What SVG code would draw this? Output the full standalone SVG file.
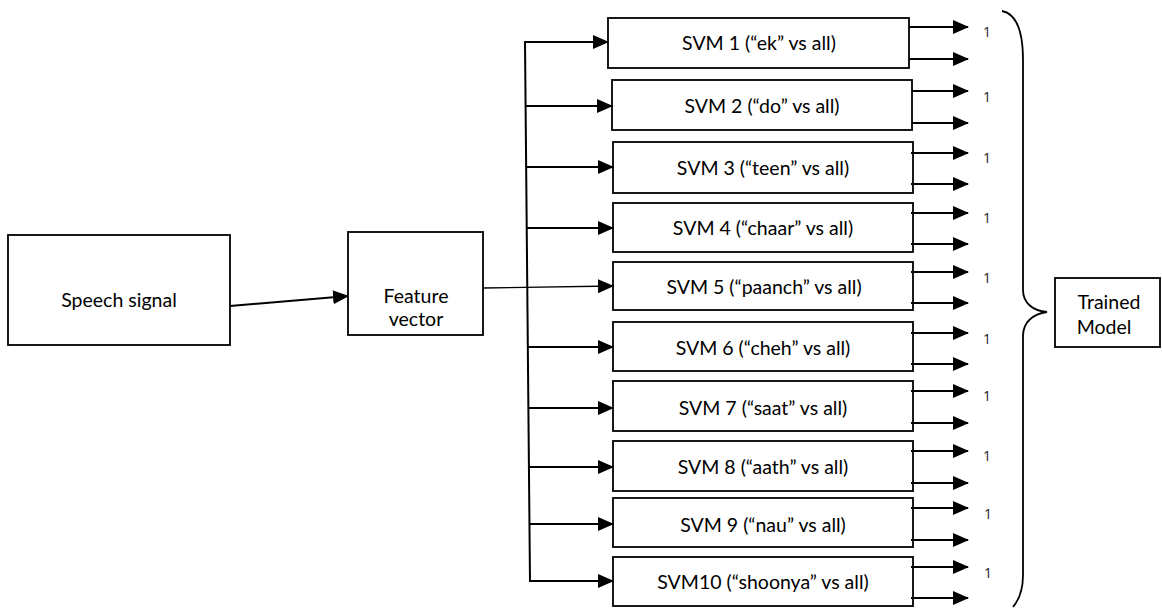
<svg xmlns="http://www.w3.org/2000/svg" width="1162" height="608" viewBox="0 0 1162 608">
  <style>
    .box { fill: #fff; stroke: #000; stroke-width: 1.8; }
    .lbl { font-family: Lato, "Open Sans", "Liberation Sans", sans-serif; font-size: 19.5px; fill: #000; text-anchor: middle; }
    .one { font-family: "Open Sans", "Liberation Sans", sans-serif; font-size: 14px; fill: #222; text-anchor: middle; }
    .wire { fill: none; stroke: #000; stroke-width: 2; }
    .thin { fill: none; stroke: #000; stroke-width: 1.3; }
  </style>
  <defs>
    <marker id="arr" viewBox="0 0 16 14" refX="15" refY="7" markerWidth="16" markerHeight="14" markerUnits="userSpaceOnUse" orient="auto">
      <path d="M0,0 L16,7 L0,14 Z" fill="#000"/>
    </marker>
  </defs>

  <g id="speech-signal">
    <rect class="box" x="8" y="235" width="222" height="110"/>
    <text class="lbl" x="119" y="307">Speech signal</text>
  </g>

  <g id="feature-vector">
    <rect class="box" x="348" y="232" width="135" height="103"/>
    <text class="lbl" x="416" y="303">Feature</text>
    <text class="lbl" x="416" y="326">vector</text>
  </g>

  <g id="svm1"><rect class="box" x="608" y="18" width="301" height="50"/><text class="lbl" x="759" y="50">SVM 1 (“ek” vs  all)</text></g>
  <g id="svm2"><rect class="box" x="612" y="80" width="300" height="50"/><text class="lbl" x="762" y="113">SVM 2 (“do” vs all)</text></g>
  <g id="svm3"><rect class="box" x="613" y="142" width="300" height="51"/><text class="lbl" x="763" y="175">SVM 3 (“teen” vs all)</text></g>
  <g id="svm4"><rect class="box" x="613" y="203" width="300" height="49"/><text class="lbl" x="763" y="235">SVM 4 (“chaar” vs all)</text></g>
  <g id="svm5"><rect class="box" x="613" y="262" width="300" height="48"/><text class="lbl" x="764" y="294">SVM 5 (“paanch” vs all)</text></g>
  <g id="svm6"><rect class="box" x="613" y="322" width="300" height="49"/><text class="lbl" x="763" y="355">SVM 6 (“cheh” vs all)</text></g>
  <g id="svm7"><rect class="box" x="613" y="381" width="300" height="50"/><text class="lbl" x="763" y="415">SVM 7 (“saat” vs all)</text></g>
  <g id="svm8"><rect class="box" x="613" y="441" width="300" height="50"/><text class="lbl" x="763" y="474">SVM 8 (“aath” vs all)</text></g>
  <g id="svm9"><rect class="box" x="613" y="498" width="300" height="49"/><text class="lbl" x="763" y="532">SVM 9 (“nau” vs all)</text></g>
  <g id="svm10"><rect class="box" x="613" y="557" width="300" height="49"/><text class="lbl" x="763" y="589">SVM10 (“shoonya” vs all)</text></g>

  <g id="trained-model">
    <rect class="box" x="1055" y="278" width="105" height="69"/>
    <text class="lbl" x="1109" y="309">Trained</text>
    <text class="lbl" x="1104" y="334">Model</text>
  </g>

  <g id="connectors">
    <!-- speech signal to feature vector -->
    <line class="wire" x1="230" y1="306" x2="348" y2="296" marker-end="url(#arr)"/>
    <!-- feature vector out to SVM 5 -->
    <line class="thin" x1="483" y1="288" x2="613" y2="286" marker-end="url(#arr)"/>
    <!-- distribution bus -->
    <line class="wire" x1="525" y1="42" x2="530" y2="582"/>
    <!-- bus taps into each SVM -->
    <line class="wire" x1="524" y1="42" x2="608" y2="42" marker-end="url(#arr)"/>
    <line class="wire" x1="526" y1="106" x2="612" y2="106" marker-end="url(#arr)"/>
    <line class="wire" x1="526" y1="167" x2="613" y2="167" marker-end="url(#arr)"/>
    <line class="wire" x1="527" y1="228" x2="613" y2="228" marker-end="url(#arr)"/>
    <line class="wire" x1="528" y1="347" x2="613" y2="347" marker-end="url(#arr)"/>
    <line class="wire" x1="528" y1="408" x2="613" y2="408" marker-end="url(#arr)"/>
    <line class="wire" x1="529" y1="467" x2="613" y2="467" marker-end="url(#arr)"/>
    <line class="wire" x1="529" y1="524" x2="613" y2="524" marker-end="url(#arr)"/>
    <line class="wire" x1="529" y1="581" x2="613" y2="581" marker-end="url(#arr)"/>

    <!-- SVM outputs -->
    <line class="wire" x1="909" y1="27" x2="968" y2="27" marker-end="url(#arr)"/>
    <line class="wire" x1="909" y1="59" x2="968" y2="59" marker-end="url(#arr)"/>
    <line class="wire" x1="912" y1="91" x2="968" y2="91" marker-end="url(#arr)"/>
    <line class="wire" x1="912" y1="123" x2="968" y2="123" marker-end="url(#arr)"/>
    <line class="wire" x1="911" y1="153" x2="968" y2="153" marker-end="url(#arr)"/>
    <line class="wire" x1="911" y1="184" x2="968" y2="184" marker-end="url(#arr)"/>
    <line class="wire" x1="911" y1="213" x2="968" y2="213" marker-end="url(#arr)"/>
    <line class="wire" x1="911" y1="244" x2="968" y2="244" marker-end="url(#arr)"/>
    <line class="wire" x1="911" y1="272" x2="968" y2="272" marker-end="url(#arr)"/>
    <line class="wire" x1="911" y1="303" x2="968" y2="303" marker-end="url(#arr)"/>
    <line class="wire" x1="911" y1="333" x2="968" y2="333" marker-end="url(#arr)"/>
    <line class="wire" x1="911" y1="364" x2="968" y2="364" marker-end="url(#arr)"/>
    <line class="wire" x1="911" y1="391" x2="968" y2="391" marker-end="url(#arr)"/>
    <line class="wire" x1="911" y1="423" x2="968" y2="423" marker-end="url(#arr)"/>
    <line class="wire" x1="911" y1="451" x2="968" y2="451" marker-end="url(#arr)"/>
    <line class="wire" x1="911" y1="483" x2="968" y2="483" marker-end="url(#arr)"/>
    <line class="wire" x1="911" y1="508" x2="968" y2="508" marker-end="url(#arr)"/>
    <line class="wire" x1="911" y1="540" x2="968" y2="540" marker-end="url(#arr)"/>
    <line class="wire" x1="911" y1="567" x2="968" y2="567" marker-end="url(#arr)"/>
    <line class="wire" x1="911" y1="598" x2="968" y2="598" marker-end="url(#arr)"/>

    <!-- brace gathering the outputs -->
    <path d="M1002,11 C1018,14 1023,34 1023,60 L1023,290 C1023,303 1033,311 1047,312 C1033,314 1023,322 1023,336 L1023,575 C1023,590 1019,600 1013,607" fill="none" stroke="#000" stroke-width="1.8"/>
  </g>

  <g id="output-labels">
    <text class="one" x="987" y="37">1</text>
    <text class="one" x="987" y="102">1</text>
    <text class="one" x="987" y="163">1</text>
    <text class="one" x="987" y="223">1</text>
    <text class="one" x="987" y="283">1</text>
    <text class="one" x="987" y="344">1</text>
    <text class="one" x="987" y="401">1</text>
    <text class="one" x="987" y="461">1</text>
    <text class="one" x="988" y="519">1</text>
    <text class="one" x="988" y="578">1</text>
  </g>
</svg>
